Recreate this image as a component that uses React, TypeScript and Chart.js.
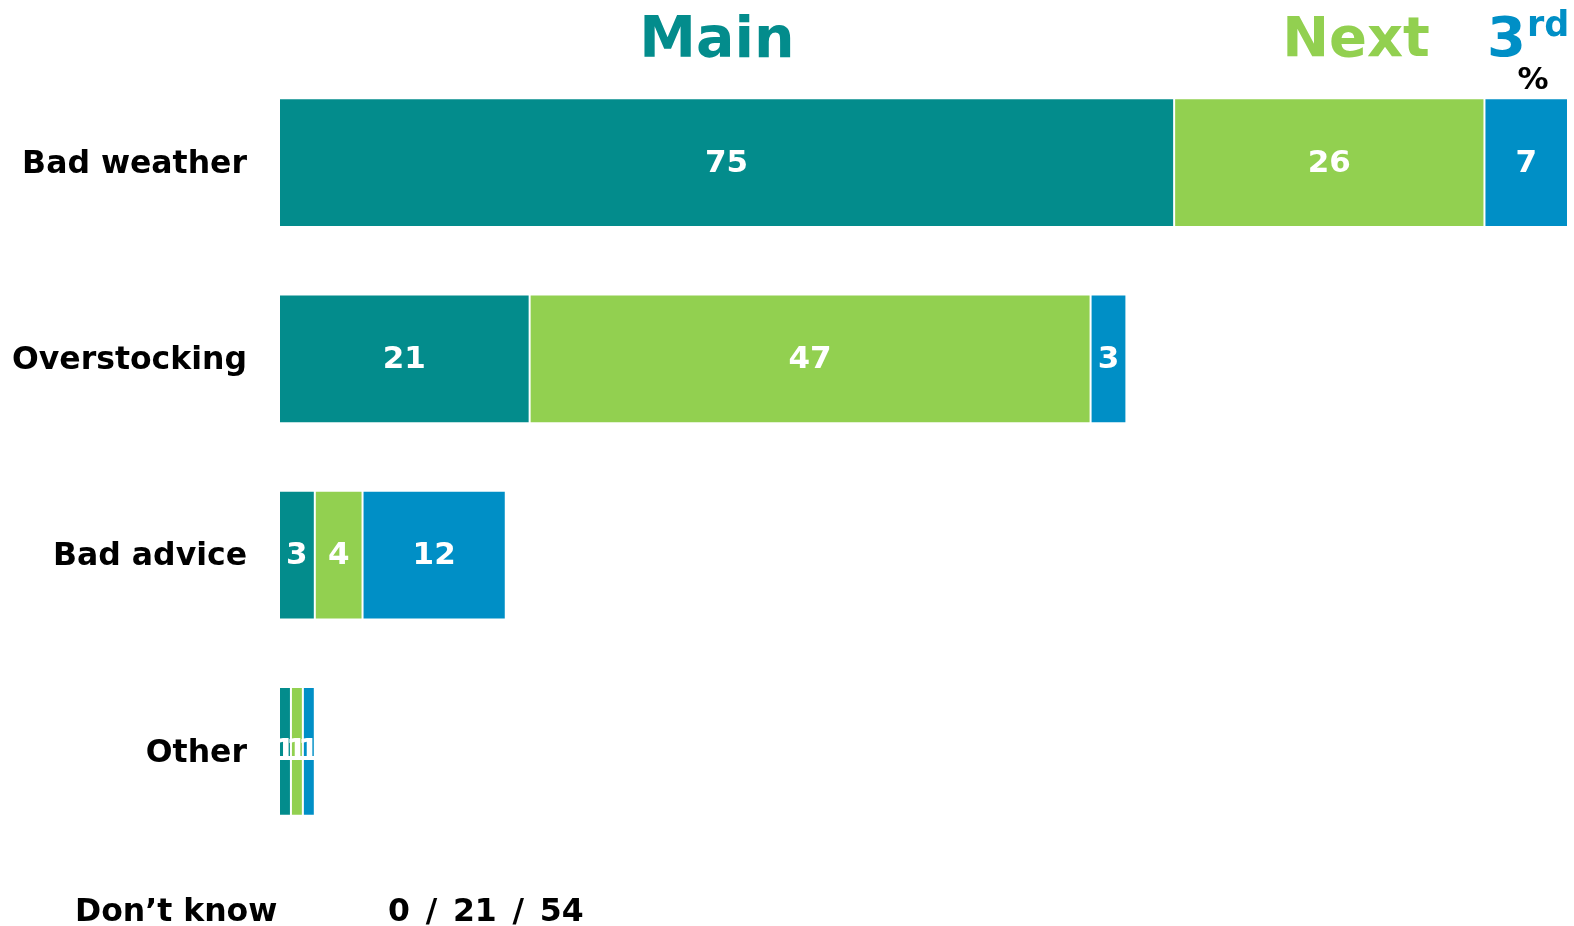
import React, { useEffect, useRef } from "react";
import { Chart, registerables } from "chart.js";

Chart.register(...registerables);

const categories = ["Bad weather", "Overstocking", "Bad advice", "Other"];
const mainValues = [75, 21, 3, 1];
const nextValues = [26, 47, 4, 1];
const thirdValues = [7, 3, 12, 1];
const dontKnowLabel = "Don\u2019t know";
const dontKnowValues = [0, 21, 54];

const TEAL = "#038C8C";
const GREEN = "#92D050";
const BLUE = "#008FC6";
const FONT = "'DejaVu Sans', Verdana, sans-serif";

const labelPlugin = {
  id: "segLabels",
  afterDatasetsDraw(chart: any) {
    const ctx = chart.ctx;
    ctx.save();
    ctx.font = `bold 31px ${FONT}`;
    ctx.fillStyle = "#ffffff";
    ctx.textAlign = "center";
    ctx.textBaseline = "middle";
    chart.data.datasets.forEach((ds: any, di: number) => {
      const meta = chart.getDatasetMeta(di);
      meta.data.forEach((bar: any, i: number) => {
        const v = ds.data[i];
        if (!v) return;
        const x = (bar.x + bar.base) / 2;
        ctx.fillText(String(v), x, bar.y + 1);
      });
    });
    ctx.restore();
  },
};

const textPlugin = {
  id: "headers",
  afterDraw(chart: any) {
    const ctx = chart.ctx;
    ctx.save();
    ctx.textBaseline = "alphabetic";
    ctx.textAlign = "center";
    ctx.font = `bold 57px ${FONT}`;
    ctx.fillStyle = TEAL;
    ctx.fillText("Main", 717, 57);
    ctx.font = `bold 56px ${FONT}`;
    ctx.fillStyle = GREEN;
    ctx.fillText("Next", 1356, 56);
    ctx.textAlign = "left";
    ctx.fillStyle = BLUE;
    ctx.font = `bold 56px ${FONT}`;
    ctx.fillText("3", 1487, 56);
    ctx.font = `bold 35px ${FONT}`;
    ctx.fillText("rd", 1527, 36);
    ctx.textAlign = "center";
    ctx.fillStyle = "#000000";
    ctx.font = `bold 31px ${FONT}`;
    ctx.fillText("%", 1533, 89);
    ctx.textAlign = "left";
    ctx.font = `bold 31.5px ${FONT}`;
    ctx.fillText(dontKnowLabel, 75, 921);
    ctx.fillText(dontKnowValues.join("\u2002/\u2002"), 388, 921);
    ctx.restore();
  },
};

export default function App() {
  const ref = useRef<HTMLCanvasElement>(null);
  useEffect(() => {
    if (!ref.current) return;
    const mk = (label: string, data: number[], color: string) => ({
      label,
      data,
      backgroundColor: color,
      borderColor: "#ffffff",
      borderWidth: 1,
      borderSkipped: false,
      barPercentage: 0.657,
      categoryPercentage: 1,
    });
    const chart = new Chart(ref.current, {
      type: "bar",
      data: {
        labels: categories,
        datasets: [
          mk("Main", mainValues, TEAL),
          mk("Next", nextValues, GREEN),
          mk("3rd", thirdValues, BLUE),
        ],
      },
      options: {
        indexAxis: "y",
        animation: false,
        responsive: false,
        maintainAspectRatio: false,
        layout: { padding: { top: 64.5, bottom: 76.5, left: 0, right: 6 } },
        plugins: { legend: { display: false }, tooltip: { enabled: false } },
        scales: {
          x: {
            stacked: true,
            min: 0,
            max: 108,
            display: false,
          },
          y: {
            stacked: true,
            grid: { display: false },
            border: { display: false },
            ticks: {
              color: "#000000",
              padding: 24,
              labelOffset: 2,
              font: { family: FONT, weight: "bold", size: 31.5 },
            },
            afterFit(scale: any) {
              scale.width = 279;
            },
          },
        },
      } as any,
      plugins: [labelPlugin, textPlugin],
    });
    return () => chart.destroy();
  }, []);
  return (
    <div style={{ position: "absolute", left: 0, top: 0, width: 1574, height: 926, background: "#fff" }}>
      <canvas ref={ref} width={1574} height={926} style={{ width: 1574, height: 926 }} />
    </div>
  );
}
